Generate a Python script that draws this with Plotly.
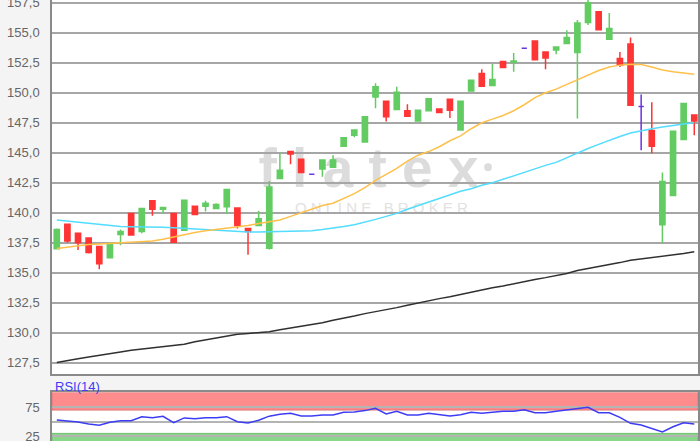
import plotly.graph_objects as go

# ---------------- data ----------------
idx = list(range(61))
opens = [137.0, 139.05, 138.3, 137.9, 137.2, 136.25, 138.2, 139.95, 138.45, 141.0,
         140.3, 139.95, 138.55, 140.55, 140.55, 140.35, 140.5, 140.4, 138.7, 138.95,
         137.05, 142.85, 145.1, 144.45, 143.2, 143.65, 143.8, 145.55, 146.45, 145.9,
         149.65, 149.3, 148.6, 148.5, 147.65, 148.5, 148.65, 149.45, 146.9, 150.15,
         151.6, 150.6, 152.6, 152.55, 153.7, 154.3, 153.4, 153.55, 154.1, 153.35,
         155.85, 156.75, 154.45, 152.85, 154.05, 148.85, 146.85, 139.0, 141.45, 146.1,
         148.15]
highs = [138.7, 139.1, 138.35, 137.95, 137.25, 137.5, 138.6, 140.0, 140.4, 141.05,
         140.5, 140.0, 141.1, 140.6, 141.0, 140.8, 142.0, 140.45, 138.75, 140.15,
         142.65, 144.95, 145.15, 144.5, 143.2, 144.4, 144.8, 146.25, 146.95, 148.0,
         150.8, 149.35, 150.5, 149.05, 148.6, 149.55, 148.7, 149.5, 149.35, 151.1,
         151.95, 152.4, 152.65, 153.3, 153.7, 154.35, 153.45, 153.85, 155.2, 156.05,
         157.9, 156.8, 156.65, 153.4, 154.6, 149.85, 149.2, 143.35, 146.85, 149.15,
         148.2]
lows = [136.95, 137.5, 136.9, 136.6, 135.3, 136.2, 137.3, 138.1, 138.3, 139.75,
        139.95, 137.5, 138.5, 139.8, 140.1, 140.3, 139.9, 138.7, 136.5, 138.9,
        136.95, 142.8, 144.05, 143.3, 143.2, 143.0, 143.75, 145.5, 146.3, 145.85,
        148.7, 147.6, 148.55, 148.0, 147.6, 148.45, 148.3, 147.9, 146.85, 150.1,
        150.5, 150.55, 152.05, 151.75, 153.7, 152.7, 151.95, 153.2, 154.05, 147.85,
        155.65, 155.2, 154.4, 152.15, 148.9, 145.2, 144.95, 137.5, 141.4, 146.05,
        146.45]
closes = [138.6, 137.65, 137.5, 136.7, 135.75, 137.45, 138.45, 138.15, 140.35, 140.3,
          140.45, 137.55, 141.05, 139.85, 140.8, 140.7, 141.95, 138.95, 138.45, 139.5,
          142.15, 143.55, 144.9, 143.35, 143.2, 144.4, 144.4, 146.25, 146.9, 148.0,
          150.5, 148.0, 150.05, 148.05, 148.55, 149.5, 148.35, 148.55, 149.3, 151.05,
          150.55, 151.1, 152.1, 152.65, 153.7, 152.75, 152.9, 153.8, 154.6, 155.8,
          157.5, 155.25, 155.35, 152.3, 148.95, 148.85, 145.55, 142.6, 146.8, 149.1,
          147.65]

ma_short = [137.03, 137.15, 137.25, 137.35, 137.4, 137.45, 137.5, 137.55, 137.6, 137.65,
            137.8, 138.0, 138.2, 138.35, 138.5, 138.6, 138.75, 138.85, 138.95, 139.1,
            139.25, 139.4, 139.7, 140.0, 140.3, 140.6, 140.8, 141.2, 141.6, 142.1,
            142.7, 143.2, 143.7, 144.3, 144.8, 145.1, 145.5, 146.0, 146.4, 147.0,
            147.5, 147.8, 148.1, 148.5, 149.0, 149.6, 150.0, 150.3, 150.7, 151.1,
            151.5, 151.85, 152.15, 152.3, 152.38, 152.35, 152.15, 151.9, 151.75, 151.65,
            151.55]
ma_mid = [139.39, 139.3, 139.2, 139.1, 139.0, 138.9, 138.85, 138.83, 138.83, 138.83,
          138.8, 138.75, 138.7, 138.6, 138.55, 138.5, 138.45, 138.4, 138.4, 138.4,
          138.42, 138.42, 138.42, 138.45, 138.5, 138.6, 138.7, 138.85, 139.0, 139.2,
          139.45, 139.7, 139.95, 140.3, 140.6, 140.9, 141.2, 141.5, 141.8, 142.0,
          142.3, 142.5, 142.8, 143.1, 143.4, 143.7, 143.95, 144.2, 144.6, 144.95,
          145.35, 145.7, 146.05, 146.35, 146.65, 146.85, 147.0, 147.15, 147.3, 147.4,
          147.5]
ma_long = [127.53, 127.72, 127.85, 127.98, 128.1, 128.25, 128.4, 128.55, 128.65, 128.75,
           128.85, 128.95, 129.05, 129.25, 129.4, 129.55, 129.75, 129.88, 129.95, 130.0,
           130.1, 130.25, 130.4, 130.5, 130.7, 130.85, 131.05, 131.2, 131.4, 131.6,
           131.75, 131.95, 132.1, 132.3, 132.5, 132.7, 132.85, 133.0, 133.2, 133.4,
           133.55, 133.75, 133.9, 134.1, 134.3, 134.45, 134.6, 134.75, 134.95, 135.2,
           135.35, 135.5, 135.7, 135.85, 136.05, 136.15, 136.25, 136.4, 136.5, 136.6,
           136.75]
rsi = [52.9, 51.5, 49.5, 46.2, 43.8, 49.0, 51.7, 51.7, 58.6, 56.9,
       59.2, 48.3, 56.5, 55.0, 56.9, 56.9, 58.6, 50.0, 47.8, 52.5,
       59.5, 62.6, 64.3, 59.8, 59.8, 61.5, 61.5, 66.0, 66.5, 69.0,
       72.9, 63.2, 67.8, 61.5, 61.5, 64.3, 61.5, 59.8, 62.0, 66.0,
       64.3, 66.0, 67.8, 67.8, 70.6, 65.4, 65.4, 67.8, 70.0, 72.9,
       74.6, 65.4, 65.4, 57.5, 47.3, 44.3, 38.6, 32.4, 41.4, 48.3,
       46.0]

price_ticks = [127.5 + 2.5 * k for k in range(13)]
rsi_ticks = [25, 50, 75]
rsi_ticktext = ["25", "", "75"]

# ---------------- figure ----------------
GREEN = "#62cc62"
RED = "#ff3434"
PURPLE = "#6a35e0"

reg = [i for i in idx if opens[i] != closes[i]]
doji = [i for i in idx if opens[i] == closes[i]]

fig = go.Figure()
fig.add_trace(go.Candlestick(
    x=reg, open=[opens[i] for i in reg], high=[highs[i] for i in reg],
    low=[lows[i] for i in reg], close=[closes[i] for i in reg],
    increasing=dict(line=dict(color=GREEN, width=1.5), fillcolor=GREEN),
    decreasing=dict(line=dict(color=RED, width=1.5), fillcolor=RED),
    showlegend=False, xaxis="x", yaxis="y"))
fig.add_trace(go.Candlestick(
    x=doji, open=[opens[i] for i in doji], high=[highs[i] for i in doji],
    low=[lows[i] for i in doji], close=[closes[i] for i in doji],
    increasing=dict(line=dict(color=PURPLE, width=1.5), fillcolor=PURPLE),
    decreasing=dict(line=dict(color=PURPLE, width=1.5), fillcolor=PURPLE),
    showlegend=False, xaxis="x", yaxis="y"))
fig.add_trace(go.Scatter(x=idx, y=ma_long, mode="lines",
                         line=dict(color="#303030", width=1.5), showlegend=False))
fig.add_trace(go.Scatter(x=idx, y=ma_mid, mode="lines",
                         line=dict(color="#52dcff", width=1.5), showlegend=False))
fig.add_trace(go.Scatter(x=idx, y=ma_short, mode="lines",
                         line=dict(color="#ffc04a", width=1.5), showlegend=False))
fig.add_trace(go.Scatter(x=idx, y=rsi, mode="lines", xaxis="x2", yaxis="y2",
                         line=dict(color="#3c3cf5", width=1.5), showlegend=False))

axis_font = dict(family="Liberation Sans, Arial, sans-serif", size=13, color="#666666")

shapes = [
    # watermark
    dict(type="rect", xref="paper", yref="paper", x0=0.3, x1=0.68, y0=0.58, y1=0.68,
         line=dict(width=0), fillcolor="rgba(0,0,0,0)", layer="below",
         label=dict(text="f l a t e x", textposition="middle center",
                    font=dict(family="Liberation Sans, Arial", size=55, color="#dcdcdc",
                              weight="bold"))),
    dict(type="rect", xref="paper", yref="paper", x0=0.3, x1=0.72, y0=0.51, y1=0.555,
         line=dict(width=0), fillcolor="rgba(0,0,0,0)", layer="below",
         label=dict(text="O N L I N E   B R O K E R", textposition="middle center",
                    font=dict(family="Liberation Sans, Arial", size=15, color="#e2e2e2"))),
    dict(type="circle", xref="paper", yref="paper", x0=0.669, x1=0.681, y0=0.612, y1=0.63,
         line=dict(width=0), fillcolor="#dcdcdc", layer="below"),
    # RSI bands
    dict(type="rect", xref="x2 domain", yref="y2", x0=0, x1=1, y0=70, y1=100,
         fillcolor="#ff8c8c", line=dict(color="#e07272", width=1), layer="below"),
    dict(type="rect", xref="x2 domain", yref="y2", x0=0, x1=1, y0=0, y1=30,
         fillcolor="#8ad68a", line=dict(color="#6cc06c", width=1), layer="below"),
]

fig.update_layout(
    width=700, height=441,
    margin=dict(l=52, r=2, t=0, b=0, autoexpand=False),
    paper_bgcolor="#f4f4f4", plot_bgcolor="#ffffff",
    separators=",.",
    showlegend=False,
    shapes=shapes,
    xaxis=dict(domain=[0, 1], anchor="y", range=[-0.45, 60.35], showticklabels=False,
               showgrid=False, zeroline=False, showline=True, mirror=False, automargin=False,
               linecolor="#8a8a8a", linewidth=1.5, rangeslider=dict(visible=False)),
    yaxis=dict(domain=[0.1508, 1], anchor="x", range=[126.53, 157.725], automargin=False,
               tickvals=price_ticks, tickformat=".1f", ticks="", ticklabelstandoff=8,
               ticklabeloverflow="allow",
               gridcolor="#a6a6a6", gridwidth=1.5, zeroline=False,
               showline=True, mirror=True, linecolor="#8a8a8a", linewidth=1.5,
               tickfont=axis_font),
    xaxis2=dict(domain=[0, 1], anchor="y2", matches="x", showticklabels=False, automargin=False,
                showgrid=False, zeroline=False, showline=True, mirror=True,
                linecolor="#8a8a8a", linewidth=1.5, rangeslider=dict(visible=False)),
    yaxis2=dict(domain=[0, 0.11], anchor="x2", range=[17, 100], automargin=False,
                tickvals=rsi_ticks, ticktext=rsi_ticktext, ticks="", ticklabelstandoff=8,
                ticklabeloverflow="allow",
                gridcolor="#b4b4b4", gridwidth=1.5, zeroline=False,
                showline=True, mirror=True, linecolor="#8a8a8a", linewidth=1.5,
                tickfont=axis_font),
    annotations=[dict(text="RSI(14)", xref="paper", yref="paper", x=0.0015, y=0.1247,
                      xanchor="left", yanchor="middle", showarrow=False,
                      font=dict(family="Liberation Sans, Arial, sans-serif", size=13,
                                color="#3c3cf5"))],
)

fig.write_html("out.html", config=dict(displayModeBar=False),
               post_script="document.body.style.margin='0';document.body.style.overflow='hidden';")
